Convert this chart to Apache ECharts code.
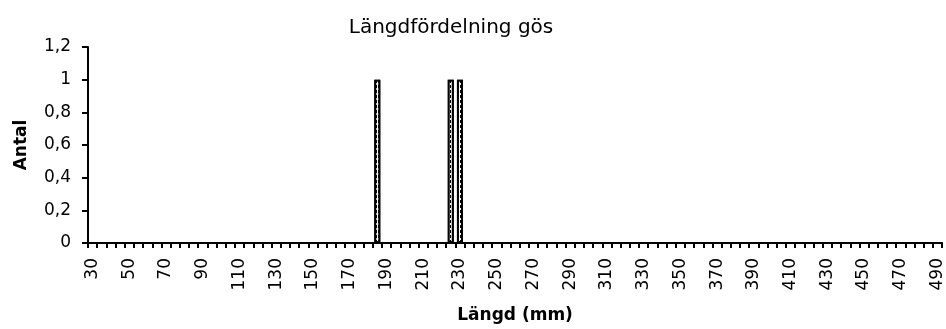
<!DOCTYPE html>
<html>
<head>
<meta charset="utf-8">
<script src="https://cdn.jsdelivr.net/npm/echarts@6/dist/echarts.min.js"></script>
<style>
  html, body { margin: 0; padding: 0; background: #fff; }
  #chart { width: 946px; height: 329px; }
</style>
</head>
<body>
<div id="chart"></div>
<script>
// Length classes (mm), 5 mm apart
const lengthClasses = [
  '30','35','40','45','50','55','60','65','70','75','80','85','90','95',
  '100','105','110','115','120','125','130','135','140','145','150','155','160','165',
  '170','175','180','185','190','195','200','205','210','215','220','225','230','235',
  '240','245','250','255','260','265','270','275','280','285','290','295','300','305',
  '310','315','320','325','330','335','340','345','350','355','360','365','370','375',
  '380','385','390','395','400','405','410','415','420','425','430','435','440','445',
  '450','455','460','465','470','475','480','485','490'
];
// Observed lengths and how many fish in each
const caughtLengths = ['185', '225', '230'];
const caughtCounts = [1, 1, 1];
const yTicks = [0, 0.2, 0.4, 0.6, 0.8, 1, 1.2];

const seriesData = lengthClasses.map(c => {
  const i = caughtLengths.indexOf(c);
  return i >= 0 ? caughtCounts[i] : '-';
});

const FONT = '"DejaVu Sans", Verdana, sans-serif';
const chart = echarts.init(document.getElementById('chart'), null, { renderer: 'canvas' });

chart.setOption({
  animation: false,
  backgroundColor: '#fff',
  title: {
    text: 'Längdfördelning gös',
    left: 446,
    top: 13,
    textAlign: 'center',
    textStyle: { fontFamily: FONT, fontSize: 20, fontWeight: 'normal', color: '#000' }
  },
  grid: { left: 88, right: 3, top: 47, bottom: 86, containLabel: false },
  xAxis: {
    type: 'category',
    data: lengthClasses,
    name: 'Längd (mm)',
    nameLocation: 'middle',
    nameGap: 64,
    nameTextStyle: { fontFamily: FONT, fontSize: 17, fontWeight: 'bold', color: '#000' },
    axisLine: { lineStyle: { color: '#000', width: 2 } },
    axisTick: { show: true, interval: 0, alignWithLabel: false, length: 5, lineStyle: { color: '#000', width: 2 } },
    axisLabel: {
      interval: 3,
      rotate: 90,
      margin: 15,
      fontFamily: FONT, fontSize: 17, color: '#000'
    },
    splitLine: { show: false }
  },
  yAxis: {
    type: 'value',
    min: yTicks[0],
    max: yTicks[yTicks.length - 1],
    interval: 0.2,
    name: 'Antal',
    nameLocation: 'middle',
    nameGap: 58,
    nameRotate: 90,
    nameTextStyle: { fontFamily: FONT, fontSize: 17, fontWeight: 'bold', color: '#000' },
    axisLine: { show: true, lineStyle: { color: '#000', width: 2 } },
    axisTick: { show: true, length: 6, lineStyle: { color: '#000', width: 2 } },
    axisLabel: {
      margin: 17,
      fontFamily: FONT, fontSize: 17, color: '#000',
      formatter: v => String(Math.round(v * 10) / 10).replace('.', ',')
    },
    splitLine: { show: false }
  },
  series: [{
    type: 'bar',
    data: seriesData,
    barWidth: 6,
    itemStyle: {
      color: '#fff',
      borderColor: '#000',
      borderWidth: 2,
      decal: {
        symbol: 'rect',
        symbolSize: 1,
        color: '#000',
        backgroundColor: '#fff',
        dashArrayX: [1, 1],
        dashArrayY: [3, 2],
        rotation: 0
      }
    }
  }]
});
</script>
</body>
</html>
